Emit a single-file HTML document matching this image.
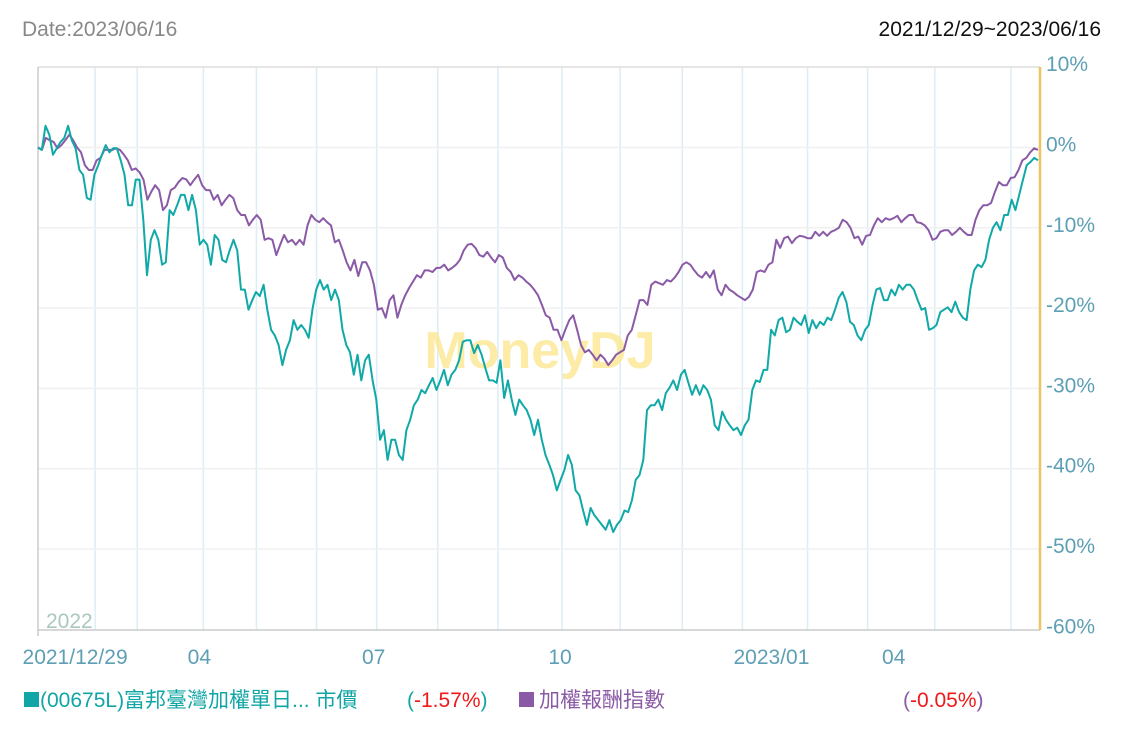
<!DOCTYPE html>
<html><head><meta charset="utf-8"><style>
body{margin:0;background:#fff;width:1121px;height:733px;overflow:hidden;font-family:"Liberation Sans","Noto Sans CJK TC",sans-serif}
svg{position:absolute;left:0;top:0}
</style></head><body>
<svg width="1121" height="733">
<text x="22" y="36" font-size="21" fill="#888">Date:2023/06/16</text>
<text x="1101" y="36" font-size="21" fill="#111" text-anchor="end">2021/12/29~2023/06/16</text>
<g id="grid"></g>
<text x="540" y="368" font-size="52" font-weight="bold" fill="#fbe58a" fill-opacity="0.75" text-anchor="middle">MoneyDJ</text>
<text x="46" y="628" font-size="21" fill="#a8c8c0">2022</text>
<g id="series"></g>
<g id="legend">
<rect x="24" y="692" width="15" height="15" fill="#11a5a5"/>
<text x="40" y="707" font-size="21" fill="#11a5a5">(00675L)富邦臺灣加權單日... 市價</text>
<text x="407" y="707" font-size="21"><tspan fill="#11a5a5">(</tspan><tspan fill="#f01818">-1.57%</tspan><tspan fill="#11a5a5">)</tspan></text>
<rect x="519" y="692" width="15" height="15" fill="#8a5aa6"/>
<text x="539" y="707" font-size="21" fill="#8a5aa6">加權報酬指數</text>
<text x="903" y="707" font-size="21"><tspan fill="#8a5aa6">(</tspan><tspan fill="#f01818">-0.05%</tspan><tspan fill="#8a5aa6">)</tspan></text>
</g>
</svg>
<script>
const yTicks=[10,0,-10,-20,-30,-40,-50,-60];
const yTickLabels=["10%","0%","-10%","-20%","-30%","-40%","-50%","-60%"];
const monthLines=[0.057,0.099,0.165,0.218,0.278,0.338,0.399,0.459,0.523,0.581,0.643,0.703,0.768,0.828,0.895,0.971];
const xTickLabels=["2021/12/29","04","07","10","2023/01","04"];
const xTickPos=[0.037,0.161,0.335,0.521,0.732,0.854];
const etfValues=[0,-0.3,2.7,1.6,-0.9,-0.1,0.7,1.2,2.7,0.9,-0.1,-2.8,-3.4,-6.3,-6.5,-3.4,-2.2,-0.9,0.3,-0.6,-0.1,-0.1,-1.6,-3.4,-7.2,-7.2,-4.0,-4.0,-9.0,-15.9,-11.5,-10.3,-11.5,-14.6,-14.3,-7.8,-8.4,-7.2,-5.9,-5.9,-7.8,-5.9,-7.8,-12.1,-11.5,-12.1,-14.6,-10.9,-11.5,-14.0,-14.3,-12.8,-11.5,-12.8,-17.7,-17.7,-20.2,-19.0,-18.0,-18.5,-17.1,-20.2,-22.7,-23.4,-24.6,-27.1,-25.2,-24.0,-21.5,-22.7,-22.1,-22.7,-23.7,-20.2,-17.7,-16.5,-17.7,-17.1,-19.0,-17.7,-19.0,-22.7,-24.6,-25.5,-28.3,-25.8,-29.0,-26.5,-25.8,-29.0,-31.4,-36.4,-35.2,-38.9,-36.4,-36.4,-38.3,-38.9,-35.2,-33.9,-32.1,-31.4,-30.2,-30.6,-29.6,-28.7,-30.2,-29.0,-27.7,-29.6,-28.3,-27.7,-26.5,-24.2,-24.0,-24.0,-25.6,-24.6,-25.8,-27.5,-29.0,-29.0,-29.3,-26.5,-31.2,-29.0,-31.4,-33.3,-31.4,-32.1,-32.7,-33.9,-35.8,-33.9,-36.4,-38.3,-39.5,-40.8,-42.7,-41.4,-40.2,-38.3,-39.5,-42.7,-43.3,-45.2,-47.0,-44.9,-45.8,-46.4,-47.0,-47.6,-46.4,-47.9,-47.0,-46.4,-45.2,-45.4,-43.9,-41.4,-40.8,-38.9,-32.7,-32.1,-32.1,-31.4,-32.7,-30.6,-29.9,-29.0,-30.2,-28.3,-27.7,-29.3,-30.8,-29.6,-30.8,-29.6,-30.2,-31.4,-34.6,-35.2,-32.9,-33.9,-34.6,-35.2,-34.9,-35.8,-34.6,-33.9,-30.2,-29.0,-29.2,-27.7,-27.7,-22.7,-23.4,-21.5,-21.2,-23.0,-22.7,-21.2,-21.7,-22.1,-20.9,-23.1,-21.5,-22.5,-21.7,-22.1,-21.2,-21.5,-20.2,-18.7,-18.0,-19.2,-21.7,-22.1,-23.4,-24.0,-22.7,-22.1,-19.6,-17.7,-17.5,-19.0,-19.0,-17.7,-18.4,-17.1,-17.7,-17.1,-17.1,-17.7,-19.0,-20.2,-20.0,-22.7,-22.5,-22.1,-20.5,-20.2,-19.9,-20.5,-19.2,-20.5,-21.2,-21.5,-17.7,-15.3,-14.6,-14.9,-14.0,-11.5,-10.0,-9.3,-10.3,-8.4,-8.4,-6.5,-7.8,-5.9,-4.0,-2.2,-1.8,-1.3,-1.6];
const indexValues=[0,-0.3,1.2,0.9,0.7,-0.1,0.3,0.9,1.6,0.9,0,-0.6,-2.2,-2.8,-2.8,-1.6,-1.3,-0.3,-0.3,-0.3,-0.1,-0.3,-0.9,-1.6,-2.8,-2.6,-3.1,-4.0,-6.5,-5.5,-4.7,-5.3,-7.8,-7.2,-5.3,-5.0,-4.3,-3.8,-4.0,-4.7,-4.0,-3.4,-4.7,-5.3,-5.3,-6.5,-5.9,-7.2,-6.5,-5.9,-6.3,-7.8,-8.4,-8.4,-9.7,-9.0,-8.4,-9.0,-11.5,-11.3,-11.5,-13.4,-12.1,-10.9,-11.8,-11.5,-12.1,-11.5,-12.1,-9.7,-8.4,-9.0,-9.3,-8.8,-9.3,-9.7,-11.8,-11.5,-12.8,-14.3,-15.3,-14.0,-16.0,-14.3,-14.3,-15.3,-17.1,-20.2,-20.0,-21.2,-19.0,-18.4,-21.2,-19.6,-18.4,-17.5,-16.7,-15.9,-16.2,-15.3,-15.3,-15.5,-15.0,-15.0,-14.6,-15.3,-15.0,-14.6,-14.0,-12.8,-12.1,-12.0,-12.5,-13.4,-13.6,-13.0,-13.7,-14.3,-13.4,-13.7,-15.0,-15.5,-16.5,-15.9,-16.2,-16.7,-17.1,-17.7,-18.4,-19.6,-20.9,-21.2,-22.7,-22.7,-24.0,-22.7,-21.5,-20.9,-22.7,-24.6,-25.5,-25.2,-25.8,-26.5,-25.8,-26.3,-27.1,-26.5,-25.8,-25.5,-25.2,-23.4,-22.7,-20.9,-19.0,-19.0,-19.6,-17.1,-16.7,-16.9,-17.1,-16.5,-16.7,-16.2,-15.5,-14.6,-14.3,-14.6,-15.3,-15.9,-16.2,-15.5,-16.2,-15.3,-17.7,-18.4,-17.1,-17.7,-18.0,-18.4,-18.7,-19.0,-18.6,-17.7,-15.5,-15.3,-15.5,-14.6,-14.3,-11.5,-12.5,-11.3,-11.1,-11.9,-11.3,-11.0,-11.1,-11.3,-11.3,-10.5,-11.0,-10.5,-11.0,-10.5,-10.3,-10.0,-9.0,-9.3,-10.0,-11.3,-11.1,-12.1,-11.0,-10.9,-9.7,-8.8,-9.3,-8.8,-9.0,-8.8,-8.5,-9.3,-8.8,-8.4,-8.4,-9.3,-9.4,-9.7,-10.3,-11.5,-11.3,-10.5,-10.3,-10.3,-10.9,-10.5,-10.0,-10.5,-10.9,-10.9,-9.0,-7.8,-7.2,-7.2,-6.9,-5.5,-4.3,-4.7,-4.7,-3.8,-3.7,-2.8,-1.6,-1.3,-0.6,-0.1,-0.3];

const NS="http://www.w3.org/2000/svg";
const L=38,R=1040,T=67,B=630;
const y=v=>147.5-v*8.03;
const xi=(i,n)=>L+i*(R-L-2)/(n-1);
const grid=document.getElementById('grid');
function mk(tag,attrs,parent){const e=document.createElementNS(NS,tag);for(const k in attrs)e.setAttribute(k,attrs[k]);parent.appendChild(e);return e;}
monthLines.forEach(f=>{
  const l=mk('line',{x1:L+f*(R-L),x2:L+f*(R-L),y1:T,y2:B,stroke:'#dcedf6','stroke-width':1.5},grid);
  
  
});
yTicks.forEach((v,i)=>{
  if(v>-60&&v<10){const g=mk('line',{x1:L,x2:R,y1:y(v),y2:y(v),stroke:'#f0f0f0','stroke-width':1.5},grid);
  
  }
  const t=mk('text',{x:1046,y:y(v)+4,'font-size':21,fill:'#5e9fb5'},grid);
  t.textContent=yTickLabels[i];
  
  
});
const b1=mk('line',{x1:L,x2:R,y1:T,y2:T,stroke:'#ddd','stroke-width':1.5},grid);


const b2=mk('line',{x1:L,x2:L,y1:T,y2:B+6,stroke:'#ccc','stroke-width':1.5},grid);


const b3=mk('line',{x1:L,x2:R,y1:B,y2:B,stroke:'#ccc','stroke-width':1.5},grid);


const b4=mk('line',{x1:R,x2:R,y1:T,y2:B,stroke:'#edc462','stroke-width':2.5},grid);


xTickLabels.forEach((s,i)=>{
  const px=L+xTickPos[i]*(R-L);
  const t=mk('text',{x:px,y:664,'font-size':21,fill:'#5e9fb5','text-anchor':'middle'},grid);
  t.textContent=s;
  
  
});
const sg=document.getElementById('series');
function line(vals,color,name){
  const d=vals.map((v,i)=>(i?'L':'M')+xi(i,vals.length).toFixed(1)+' '+y(v).toFixed(1)).join(' ');
  const p=mk('path',{d:d,fill:'none',stroke:color,'stroke-width':2,'stroke-linejoin':'round'},sg);
  
  
}
line(indexValues,'#8a5aa6','index-line');
line(etfValues,'#11a8a8','etf-line');
</script>
</body></html>
